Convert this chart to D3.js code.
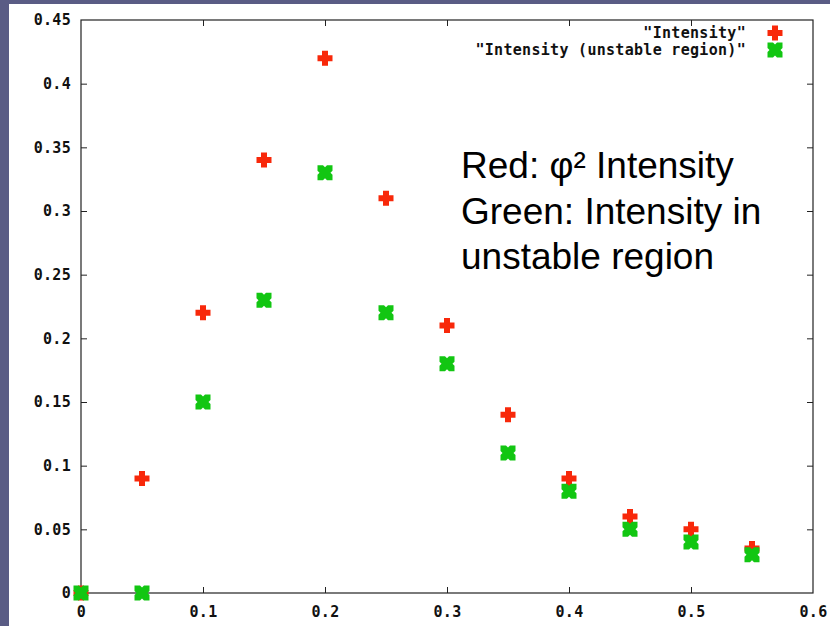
<!DOCTYPE html>
<html>
<head>
<meta charset="utf-8">
<script src="https://cdn.jsdelivr.net/npm/d3@7"></script>
<style>
  html, body { margin: 0; padding: 0; background: #5a5c85; }
  svg { display: block; }
  .tick-label { font-family: "DejaVu Sans Mono", monospace; font-weight: bold; font-size: 15px; letter-spacing: 0.3px; fill: #111; }
  .note { font-family: "Liberation Sans", Arial, sans-serif; font-size: 37px; fill: #000; }
</style>
</head>
<body>
<div id="chart"></div>
<script>
// Data
const xValues = [0, 0.05, 0.1, 0.15, 0.2, 0.25, 0.3, 0.35, 0.4, 0.45, 0.5, 0.55];
const intensity = [0, 0.09, 0.22, 0.34, 0.42, 0.31, 0.21, 0.14, 0.09, 0.06, 0.05, 0.035];
const intensityUnstable = [0, 0, 0.15, 0.23, 0.33, 0.22, 0.18, 0.11, 0.08, 0.05, 0.04, 0.03];
const xTicks = [0, 0.1, 0.2, 0.3, 0.4, 0.5, 0.6];
const yTicks = [0, 0.05, 0.1, 0.15, 0.2, 0.25, 0.3, 0.35, 0.4, 0.45];
const seriesNames = ['"Intensity"', '"Intensity (unstable region)"'];
const noteLines = ['Red: \u03c6\u00b2 Intensity', 'Green: Intensity in', 'unstable region'];

const W = 830, H = 626;
const margin = { top: 20, right: 17, bottom: 33, left: 81 };
const width = W - margin.left - margin.right;
const height = H - margin.top - margin.bottom;

const svg = d3.select('#chart').append('svg')
    .attr('width', W)
    .attr('height', H);

// slide background + white page
svg.append('rect').attr('width', W).attr('height', H).attr('fill', '#5a5c85');
svg.append('rect').attr('x', 9).attr('y', 4).attr('width', W - 9).attr('height', H - 4).attr('fill', '#fff');

const g = svg.append('g').attr('transform', `translate(${margin.left},${margin.top})`);

const x = d3.scaleLinear().domain([0, 0.6]).range([0, width]);
const y = d3.scaleLinear().domain([0, 0.45]).range([height, 0]);

const fmt = d => d === 0 ? '0' : String(+d.toFixed(2));

// ticks (inward, mirrored)
const tickStyle = sel => {
    sel.select('.domain').remove();
    sel.selectAll('line').attr('stroke', '#222').attr('stroke-width', 1);
    sel.selectAll('text').attr('class', 'tick-label').attr('fill', null);
};

g.append('g')
    .call(d3.axisLeft(y).tickValues(yTicks).tickSize(-6).tickPadding(10).tickFormat(fmt))
    .call(tickStyle);
g.append('g')
    .attr('transform', `translate(${width},0)`)
    .call(d3.axisRight(y).tickValues(yTicks).tickSize(-6).tickFormat(''))
    .call(tickStyle);
g.append('g')
    .attr('transform', `translate(0,${height})`)
    .call(d3.axisBottom(x).tickValues(xTicks).tickSize(-6).tickPadding(13).tickFormat(fmt))
    .call(tickStyle);
g.append('g')
    .call(d3.axisTop(x).tickValues(xTicks).tickSize(-6).tickFormat(''))
    .call(tickStyle);

// hide tick marks at the corners
g.selectAll('.tick line').filter(function() {
    const t = d3.select(this.parentNode).datum();
    return t === 0 || t === 0.6 || t === 0.45;
}).remove();

// border
g.append('rect')
    .attr('width', width).attr('height', height)
    .attr('fill', 'none').attr('stroke', '#222').attr('stroke-width', 1.2);

// point shapes
const plusPath = 'M-3,-7.5 L3,-7.5 L3,-3 L7.5,-3 L7.5,3 L3,3 L3,7.5 L-3,7.5 L-3,3 L-7.5,3 L-7.5,-3 L-3,-3 Z';
const xPath = 'M-7.5,-7.5 L-2,-7.5 L0,-5.5 L2,-7.5 L7.5,-7.5 L7.5,-2 L5.5,0 L7.5,2 L7.5,7.5 L2,7.5 L0,5.5 L-2,7.5 L-7.5,7.5 L-7.5,2 L-5.5,0 L-7.5,-2 Z';
const red = '#f8280a', green = '#12c612';

const series = [
    { name: seriesNames[0], values: intensity, path: plusPath, color: red },
    { name: seriesNames[1], values: intensityUnstable, path: xPath, color: green }
];

series.forEach(s => {
    g.selectAll(null)
        .data(xValues.map((xv, i) => ({ x: xv, y: s.values[i] })))
        .enter().append('path')
        .attr('d', s.path)
        .attr('fill', s.color)
        .attr('transform', d => `translate(${x(d.x)},${y(d.y)})`);
});

// legend
const legend = g.append('g');
series.forEach((s, i) => {
    const ly = 13 + i * 17;
    legend.append('text')
        .attr('class', 'tick-label')
        .attr('x', 665).attr('y', ly)
        .attr('dy', '0.35em')
        .attr('text-anchor', 'end')
        .text(s.name);
    legend.append('path')
        .attr('d', s.path)
        .attr('fill', s.color)
        .attr('transform', `translate(694,${ly})`);
});

// annotation
svg.selectAll('.note')
    .data(noteLines)
    .enter().append('text')
    .attr('class', 'note')
    .attr('x', 461)
    .attr('y', (d, i) => 178 + i * 45.5)
    .text(d => d);
</script>
</body>
</html>
